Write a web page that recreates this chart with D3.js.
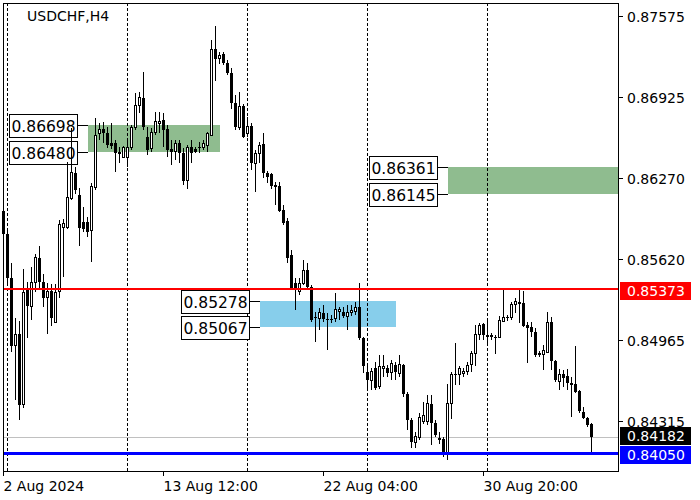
<!DOCTYPE html>
<html>
<head>
<meta charset="utf-8">
<script src="https://cdn.jsdelivr.net/npm/d3@7"></script>
<style>
  body { margin: 0; background: #fff; }
  svg  { display: block; font-family: "DejaVu Sans", sans-serif; }
</style>
</head>
<body>
<svg id="chart" width="700" height="500"></svg>
<script>
/* ---------- data ------------------------------------------ */
const symbol = 'USDCHF,H4';
const firstBar = Date.UTC(2024, 7, 2, 20);          // 2 Aug 2024 20:00

const opens = [
  0.86004,0.85819,0.85465,0.84917,0.85013,0.84442,0.85368,0.85239,0.85432,0.85626,
  0.85432,0.85304,0.85360,0.85110,0.85352,0.85875,0.85875,0.86109,0.86310,0.86133,
  0.85916,0.85916,0.85851,0.86190,0.86625,0.86665,0.86633,0.86552,0.86552,0.86480,
  0.86439,0.86439,0.86512,0.86681,0.86858,0.86915,0.86600,0.86504,0.86633,0.86713,
  0.86737,0.86665,0.86504,0.86480,0.86552,0.86472,0.86254,0.86520,0.86504,0.86504,
  0.86512,0.86536,0.86616,0.87309,0.87229,0.87269,0.87196,0.87116,0.86874,0.86681,
  0.86850,0.86625,0.86689,0.86391,0.86464,0.86544,0.86310,0.86302,0.86214,0.86206,
  0.86012,0.85924,0.85650,0.85424,0.85352,0.85424,0.85529,0.85392,0.85142,0.85142,
  0.85183,0.85142,0.85142,0.85142,0.85191,0.85191,0.85158,0.85183,0.85191,0.85231,
  0.84981,0.84707,0.84643,0.84740,0.84587,0.84732,0.84740,0.84707,0.84764,0.84699,
  0.84764,0.84530,0.84321,0.84143,0.84176,0.84305,0.84305,0.84450,0.84297,0.84176,
  0.84168,0.84055,0.84450,0.84683,0.84691,0.84699,0.84715,0.84764,0.84860,0.85013,
  0.85094,0.85005,0.85005,0.84997,0.84989,0.85118,0.85142,0.85150,0.85255,0.85271,
  0.85263,0.85086,0.85070,0.85030,0.84860,0.84852,0.84868,0.85110,0.84796,0.84635,
  0.84691,0.84675,0.84619,0.84611,0.84554,0.84385,0.84337,0.84289
];
const highs = [
  0.86045,0.85851,0.85585,0.85142,0.85118,0.85537,0.85432,0.85553,0.85658,0.85722,
  0.85497,0.85424,0.85416,0.85416,0.85932,0.85940,0.86399,0.86673,0.86359,0.86190,
  0.86036,0.85956,0.86230,0.86753,0.86713,0.86721,0.86681,0.86713,0.86576,0.86520,
  0.86528,0.86584,0.86697,0.86955,0.86963,0.87124,0.86681,0.86673,0.86802,0.86802,
  0.86794,0.86697,0.86576,0.86576,0.86576,0.86512,0.86536,0.86576,0.86520,0.86560,
  0.86576,0.86641,0.87382,0.87495,0.87285,0.87285,0.87221,0.87156,0.86939,0.86963,
  0.86866,0.86762,0.86713,0.86496,0.86560,0.86633,0.86327,0.86310,0.86238,0.86238,
  0.86053,0.85948,0.85690,0.85465,0.85465,0.85610,0.85585,0.85408,0.85191,0.85223,
  0.85247,0.85183,0.85167,0.85344,0.85231,0.85231,0.85247,0.85247,0.85271,0.85424,
  0.84989,0.84764,0.84740,0.84788,0.84844,0.84844,0.84764,0.84804,0.84788,0.84844,
  0.84772,0.84546,0.84337,0.84224,0.84377,0.84466,0.84522,0.84522,0.84321,0.84224,
  0.84184,0.84611,0.84707,0.84941,0.84756,0.84740,0.84788,0.84877,0.85086,0.85102,
  0.85102,0.85126,0.85022,0.85005,0.85158,0.85376,0.85167,0.85271,0.85304,0.85376,
  0.85360,0.85110,0.85110,0.85062,0.84877,0.84925,0.85191,0.85150,0.84804,0.84732,
  0.84724,0.84732,0.84667,0.84917,0.84562,0.84425,0.84345,0.84297
];
const lows = [
  0.85771,0.85424,0.84868,0.84482,0.84321,0.84417,0.84981,0.85126,0.85352,0.85384,
  0.85231,0.85013,0.85078,0.85102,0.85304,0.85473,0.85859,0.86093,0.86141,0.85722,
  0.85835,0.85795,0.85593,0.86173,0.86576,0.86552,0.86512,0.86504,0.86318,0.86391,
  0.86431,0.86359,0.86496,0.86657,0.86794,0.86657,0.86455,0.86480,0.86616,0.86633,
  0.86520,0.86439,0.86375,0.86415,0.86391,0.86214,0.86182,0.86391,0.86472,0.86472,
  0.86496,0.86480,0.86608,0.87052,0.87188,0.87180,0.87100,0.86826,0.86657,0.86657,
  0.86592,0.86600,0.86335,0.86157,0.86391,0.86270,0.86230,0.86182,0.86053,0.85996,
  0.85892,0.85585,0.85368,0.85207,0.85328,0.85408,0.85376,0.85110,0.84949,0.85046,
  0.85110,0.84885,0.85102,0.85110,0.85126,0.85142,0.85046,0.85158,0.85167,0.84965,
  0.84699,0.84562,0.84562,0.84562,0.84570,0.84667,0.84667,0.84643,0.84643,0.84667,
  0.84506,0.84240,0.84095,0.84095,0.84160,0.84289,0.84281,0.84119,0.84184,0.84127,
  0.84023,0.83999,0.84329,0.84603,0.84603,0.84667,0.84683,0.84707,0.84756,0.84965,
  0.84965,0.84925,0.84965,0.84852,0.84981,0.85110,0.85118,0.85126,0.85183,0.85102,
  0.85070,0.84780,0.84989,0.84828,0.84828,0.84724,0.84860,0.84724,0.84627,0.84562,
  0.84587,0.84562,0.84345,0.84538,0.84377,0.84329,0.84264,0.84050
];
const closes = [
  0.85819,0.85465,0.84917,0.85013,0.84442,0.85344,0.85239,0.85432,0.85626,0.85432,
  0.85304,0.85360,0.85142,0.85344,0.85892,0.85900,0.86117,0.86318,0.86173,0.85867,
  0.85859,0.85835,0.86198,0.86616,0.86665,0.86633,0.86536,0.86528,0.86472,0.86464,
  0.86520,0.86520,0.86681,0.86858,0.86915,0.86681,0.86496,0.86633,0.86729,0.86729,
  0.86657,0.86496,0.86480,0.86552,0.86472,0.86246,0.86520,0.86472,0.86480,0.86512,
  0.86552,0.86625,0.87309,0.87229,0.87261,0.87196,0.87116,0.86874,0.86681,0.86850,
  0.86600,0.86689,0.86391,0.86464,0.86536,0.86310,0.86278,0.86206,0.86198,0.86004,
  0.85908,0.85626,0.85384,0.85368,0.85424,0.85529,0.85392,0.85126,0.85150,0.85183,
  0.85134,0.85134,0.85134,0.85207,0.85207,0.85158,0.85183,0.85199,0.85231,0.84981,
  0.84756,0.84643,0.84715,0.84578,0.84748,0.84748,0.84699,0.84772,0.84707,0.84764,
  0.84530,0.84321,0.84143,0.84184,0.84345,0.84361,0.84450,0.84297,0.84200,0.84160,
  0.84055,0.84450,0.84691,0.84691,0.84732,0.84715,0.84756,0.84860,0.85013,0.85086,
  0.85005,0.84989,0.84989,0.84989,0.85126,0.85150,0.85150,0.85255,0.85279,0.85255,
  0.85078,0.85062,0.85030,0.84844,0.84844,0.84877,0.85110,0.84796,0.84643,0.84691,
  0.84659,0.84619,0.84603,0.84546,0.84393,0.84337,0.84281,0.84182
];

// rectangles: [top price, bottom price], anchored from bar .. to bar
const zonePrices = [[0.86698, 0.86480], [0.86361, 0.86145], [0.85278, 0.85067]];
const zoneBars   = [[21, 54], [111, 160], [64, 98]];
const zoneColors = ['#8fbc8f', '#8fbc8f', '#87ceeb'];

const resistance = 0.85373;
const support    = 0.84050;
const bid        = 0.84182;

const priceTicks = [0.87575, 0.86925, 0.86270, 0.85620, 0.84965, 0.84315];

/* ---------- bar times (H4, no weekends) --------------------- */
const H4 = 4 * 3600e3;
const bars = [];
let t = firstBar;
for (let i = 0; i < closes.length; i++) {
  bars.push({ i, t: new Date(t), o: opens[i], h: highs[i], l: lows[i], c: closes[i] });
  t += H4;
  while ([0, 6].includes(new Date(t).getUTCDay())) t += H4;
}

/* ---------- svg & scales ------------------------------------ */
const svg = d3.select('#chart');
const L = 3, R = 618.5, T = 3, B = 471;

const x = d3.scaleLinear().domain([0, 153.75]).range([3.5, 618.5]);
const y = d3.scaleLinear().domain([0.83910, 0.87680]).range([B, T]);
const fmt = d3.format('.5f');

svg.append('rect').attr('width', 700).attr('height', 500).attr('fill', '#fff');

const g = svg.append('g').attr('shape-rendering', 'crispEdges');

/* zones (background) */
zonePrices.forEach(([hi, lo], k) => {
  const x0 = x(zoneBars[k][0]), x1 = Math.min(R, x(zoneBars[k][1]));
  g.append('rect')
    .attr('x', x0).attr('y', y(hi))
    .attr('width', x1 - x0).attr('height', y(lo) - y(hi))
    .attr('fill', zoneColors[k]);
});

/* weekly separators */
bars.filter(d => d.t.getUTCDay() === 1 && d.t.getUTCHours() === 0).forEach(d => {
  g.append('line')
    .attr('x1', x(d.i)).attr('x2', x(d.i))
    .attr('y1', T).attr('y2', B)
    .attr('stroke', '#000').attr('stroke-dasharray', '3,2');
});

/* bid line */
g.append('line')
  .attr('x1', L).attr('x2', R).attr('y1', Math.round(y(bid)) + 0.5).attr('y2', Math.round(y(bid)) + 0.5)
  .attr('stroke', '#c0c0c0');

/* price labels of the zones */
zonePrices.forEach(([hi, lo], k) => {
  const zx = x(zoneBars[k][0]);
  [hi, lo].forEach(p => {
    const cy = Math.round(y(p)) + 0.5;
    g.append('line')
      .attr('x1', zx - 10).attr('x2', zx).attr('y1', cy).attr('y2', cy)
      .attr('stroke', '#000');
    g.append('rect')
      .attr('x', zx - 78).attr('y', cy - 11.5)
      .attr('width', 68).attr('height', 23)
      .attr('fill', '#fff').attr('stroke', '#000');
    svg.append('text')
      .attr('x', zx - 76).attr('y', cy + 6)
      .style('font-size', '15.5px')
      .attr('fill', '#000')
      .text(fmt(p));
  });
});

/* candles */
const cg = svg.append('g').attr('shape-rendering', 'crispEdges');
bars.forEach(d => {
  const cx = x(d.i);
  cg.append('line')
    .attr('x1', cx).attr('x2', cx).attr('y1', y(d.h)).attr('y2', y(d.l))
    .attr('stroke', '#000');
  const yo = y(d.o), yc = y(d.c);
  if (Math.abs(yo - yc) < 1.5) {
    cg.append('line')
      .attr('x1', cx - 1.5).attr('x2', cx + 1.5).attr('y1', yc).attr('y2', yc)
      .attr('stroke', '#000');
  } else if (d.c >= d.o) {
    cg.append('rect')
      .attr('x', cx - 1).attr('y', yc).attr('width', 2).attr('height', yo - yc)
      .attr('fill', '#fff').attr('stroke', '#000');
  } else {
    cg.append('rect')
      .attr('x', cx - 1.5).attr('y', yo).attr('width', 3).attr('height', yc - yo)
      .attr('fill', '#000');
  }
});

/* horizontal levels */
const lg = svg.append('g').attr('shape-rendering', 'crispEdges');
lg.append('line')
  .attr('x1', L).attr('x2', R).attr('y1', y(resistance)).attr('y2', y(resistance))
  .attr('stroke', '#ff0000').attr('stroke-width', 2);
lg.append('line')
  .attr('x1', L).attr('x2', R).attr('y1', y(support)).attr('y2', y(support))
  .attr('stroke', '#0000ff').attr('stroke-width', 3);

/* frame */
svg.append('rect')
  .attr('x', L).attr('y', T).attr('width', R - L).attr('height', B - T)
  .attr('fill', 'none').attr('stroke', '#000')
  .attr('shape-rendering', 'crispEdges');

/* title */
svg.append('text')
  .attr('x', 27).attr('y', 21)
  .style('font-size', '14px').attr('fill', '#000')
  .text(symbol);

/* right price axis */
const ax = svg.append('g').attr('shape-rendering', 'crispEdges');
priceTicks.forEach(p => {
  const py = Math.round(y(p)) + 0.5;
  ax.append('line').attr('x1', R).attr('x2', R + 4).attr('y1', py).attr('y2', py).attr('stroke', '#000');
  svg.append('text')
    .attr('x', 627).attr('y', py + 5.5)
    .style('font-size', '14px').attr('fill', '#000')
    .text(fmt(p));
});

// price tags: [price, background, top of box]
const tags = [
  [resistance, '#ff0000', y(resistance) - 7],
  [bid, '#000000', y(bid) - 10],
  [support, '#0000ff', y(bid) + 9]
];
tags.forEach(([p, col, top]) => {
  ax.append('rect')
    .attr('x', 620).attr('y', Math.round(top))
    .attr('width', 71).attr('height', 18)
    .attr('fill', col);
  svg.append('text')
    .attr('x', 627).attr('y', Math.round(top) + 14)
    .style('font-size', '14px').attr('fill', '#fff')
    .text(fmt(p));
});

/* time axis */
const fFirst = d3.utcFormat('%-d %b %Y'), fTime = d3.utcFormat('%-d %b %H:%M');
bars.filter(d => d.i % 40 === 0).forEach(d => {
  const tx = Math.round(x(d.i)) - 0.5;
  ax.append('line').attr('x1', tx).attr('x2', tx).attr('y1', B).attr('y2', B + 5).attr('stroke', '#000');
  svg.append('text')
    .attr('x', tx).attr('y', 491)
    .style('font-size', '14px').attr('fill', '#000')
    .text(d.i === 0 ? fFirst(d.t) : fTime(d.t));
});
</script>
</body>
</html>
